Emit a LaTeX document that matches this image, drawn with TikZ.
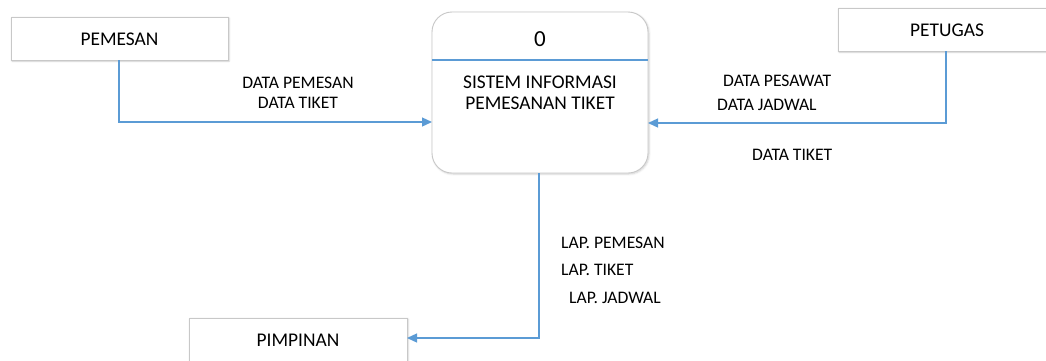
\documentclass[tikz,border=0pt]{standalone}
\usepackage{fontspec}
\setmainfont{Carlito}
\usetikzlibrary{arrows.meta,shadows.blur}
\definecolor{boxgray}{HTML}{C8C8C8}
\definecolor{flowblue}{HTML}{5B9BD5}
\tikzset{
  entity/.style={draw=boxgray, line width=0.9pt, fill=white, blur shadow={shadow blur steps=5, shadow xshift=1pt, shadow yshift=-1pt, shadow opacity=20}},
  proc/.style={draw=boxgray, line width=0.9pt, fill=white, rounded corners=20pt, blur shadow={shadow blur steps=5, shadow xshift=1pt, shadow yshift=-1pt, shadow opacity=20}},
  flow/.style={draw=flowblue, line width=1.3pt, -{Triangle[length=10pt,width=9pt]}},
  lbl/.style={font=\fontsize{17.6}{19}\selectfont, inner sep=0pt},
  ename/.style={font=\fontsize{19.4}{21}\selectfont, inner sep=0pt},
}
\begin{document}
\begin{tikzpicture}[x=1pt,y=-1pt]
\useasboundingbox (0,0) rectangle (1046,360);
% entities
\draw[entity] (11,17) rectangle (228,60);
\node[ename] (pemesan) at (119.5,39) {PEMESAN};
\coordinate (pemesanB) at (119,60);
\draw[entity] (838,8) rectangle (1058,51);
\node[ename] (petugas) at (947,30) {PETUGAS};
\coordinate (petugasB) at (946,51);
\draw[entity] (189,318) rectangle (407,372);
\node[ename] (pimpinan) at (298,340) {PIMPINAN};
\coordinate (pimpinanR) at (407,338);
% process
\draw[proc] (432,12) rectangle (648,173);
\draw[flowblue, line width=1.2pt] (432,60) -- (648,60);
\node[font=\fontsize{23}{25}\selectfont, inner sep=0pt] (pid) at (540,39) {0};
\node[ename, align=center, font=\fontsize{19.4}{21}\selectfont] (pname) at (540,92.5) {SISTEM INFORMASI\\PEMESANAN TIKET};
\coordinate (procL) at (432,122);
\coordinate (procR) at (648,123);
\coordinate (procB) at (539,173);
% flows
\draw[flow] (pemesanB) |- (procL);
\draw[flow] (petugasB) |- (procR);
\draw[flow] (procB) |- (pimpinanR);
% labels
\node[lbl] (l1) at (298,83) {DATA PEMESAN};
\node[lbl] (l2) at (298,103) {DATA TIKET};
\node[lbl, anchor=west] (l3) at (723,81) {DATA PESAWAT};
\node[lbl, anchor=west] (l4) at (717,105) {DATA JADWAL};
\node[lbl, anchor=west] (l5) at (752,155) {DATA TIKET};
\node[lbl, anchor=west] (l6) at (561,243) {LAP. PEMESAN};
\node[lbl, anchor=west] (l7) at (561,270) {LAP. TIKET};
\node[lbl, anchor=west] (l8) at (569,298) {LAP. JADWAL};
\end{tikzpicture}
\end{document}
